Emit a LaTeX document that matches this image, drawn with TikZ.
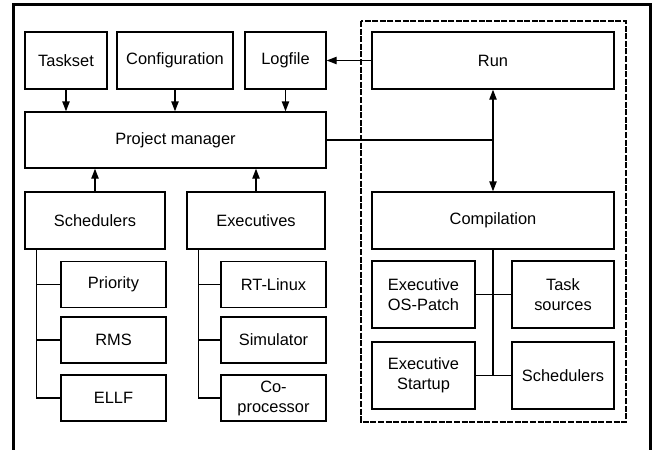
\documentclass[tikz,border=0pt]{standalone}
\usepackage{fontspec}
\setmainfont{Liberation Sans}
\usetikzlibrary{arrows.meta}
\tikzset{
  blk/.style 2 args={draw, line width=1pt, inner sep=0pt, align=center,
    minimum width=#1*0.75pt, minimum height=#2*0.75pt,
    font=\fontsize{12.3}{15}\selectfont},
  ln/.style={line width=1pt},
  arr/.style={line width=1pt, -{Triangle[length=7.5pt,width=5.5pt]}},
  dbl/.style={line width=1pt, {Triangle[length=7.5pt,width=5.5pt]}-{Triangle[length=7.5pt,width=5.5pt]}}}

\begin{document}
\begin{tikzpicture}[x=0.75pt,y=-0.75pt]
  \useasboundingbox (0,0) rectangle (654,450);
  \draw[line width=2.25pt] (13.5,450) -- (13.5,4) -- (650.5,4) -- (650.5,450);
  \draw[line width=1pt, dash pattern=on 4.5pt off 1.2pt] (361,21) rectangle (626,422);
  % left side
  \node[blk={82}{57}] (task) at (66,60.5) {Taskset};
  \node[blk={116}{57}] (config) at (175,60.5) {Configuration};
  \node[blk={81}{57}] (logf) at (285.5,60.5) {Logfile};
  \node[blk={301}{56}] (pm) at (175.5,140) {Project manager};
  \node[blk={140}{57}] (sched) at (95,220.5) {Schedulers};
  \node[blk={138}{57}] (exec) at (256,220.5) {Executives};
  \foreach \n/\t/\y in {prio/Priority/284.5, rms/RMS/340, ellf/ELLF/398}
    \node[blk={105}{46}] (\n) at (113.5,\y) {\t};
  \foreach \n/\t/\y in {rtl/RT-Linux/284.5, sim/Simulator/340, copr/Co-\\processor/398}
    \node[blk={105}{46}] (\n) at (273.5,\y) {\t};
  % right side
  \node[blk={242}{57}] (run) at (493,60.5) {Run};
  \node[blk={242}{57}] (comp) at (493,220.5) {Compilation};
  \node[blk={103}{67}] (osp) at (423.5,294.5) {Executive\\OS-Patch};
  \node[blk={102}{67}] (tsrc) at (563,294.5) {Task\\sources};
  \node[blk={103}{67}] (estart) at (423.5,375.5) {Executive\\Startup};
  \node[blk={102}{67}] (csched) at (563,375.5) {Schedulers};
  % connectors
  \foreach \n in {task,config,logf}
    \draw[arr] (\n) -- (\n |- pm.north);
  \foreach \n in {sched,exec}
    \draw[arr] (\n) -- (\n |- pm.south);
  \draw[arr] (run.west |- logf) -- (logf.east);
  \draw[ln] (pm.east) -- (pm.east -| run.south);
  \draw[dbl] (run.south) -- (comp.north);
  \coordinate (st) at ([xshift=9pt]sched.south west);
  \coordinate (et) at ([xshift=9pt]exec.south west);
  \draw[ln] (st) |- (ellf.west);
  \draw[ln] (et) |- (copr.west);
  \foreach \n in {prio,rms}
    \draw[ln] (\n.west) -- (\n.west -| st);
  \foreach \n in {rtl,sim}
    \draw[ln] (\n.west) -- (\n.west -| et);
  \draw[ln] (comp.south) -- (comp.south |- estart.east);
  \draw[ln] (osp.east) -- (tsrc.west);
  \draw[ln] (estart.east) -- (csched.west);
\end{tikzpicture}
\end{document}
